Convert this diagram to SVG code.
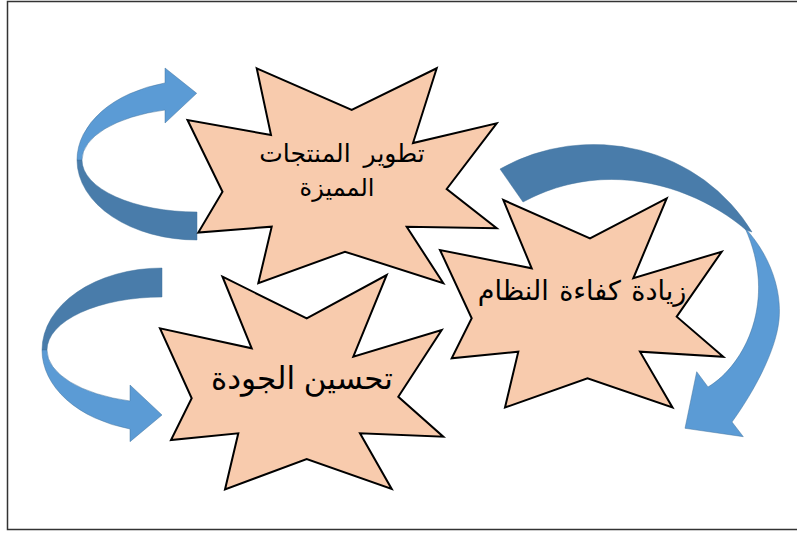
<svg xmlns="http://www.w3.org/2000/svg" width="797" height="534" viewBox="0 0 797 534">
  <style>
    .star { fill: #F8CBAD; stroke: #000; stroke-width: 2; stroke-linejoin: miter; }
    .band-dark { fill: #497CAA; stroke: #41719C; stroke-width: 0.8; stroke-opacity: 0.6; }
    .band-light { fill: #5B9BD5; stroke: #41719C; stroke-width: 0.8; stroke-opacity: 0.6; }
    .label { font-family: "Liberation Sans", "DejaVu Sans", sans-serif; fill: #000; text-anchor: middle; direction: rtl; }
  </style>

  <!-- page background and frame -->
  <rect x="0" y="0" width="797" height="534" fill="#fff"/>
  <rect x="7.5" y="1.5" width="800" height="528" fill="#fff" stroke="#333" stroke-width="1.5"/>

  <!-- curved arrows -->
  <g id="connectors">
    <!-- upper-left arrow: loops left and points back at the top star -->
    <g id="arrow-top-left">
      <path class="band-dark" d="M77,160 A120 80 0 0 0 197,240 L197,212 A115 52 0 0 1 82,160 Z"/>
      <path class="band-light" d="M165,82.9 A120 80 0 0 0 77,160 L82,160 A115 52 0 0 1 165,110 L165,123 L196.7,93.3 L165,68 Z"/>
    </g>
    <!-- lower-left arrow: loops left and points at the bottom star -->
    <g id="arrow-bottom-left">
      <path class="band-dark" d="M42,350 A120 82 0 0 1 162,268 L162,297 A115 53 0 0 0 47,350 Z"/>
      <path class="band-light" d="M42,350 A120 82 0 0 0 130,429 L130,441.7 L162,415 L130,385 L130,401 A115 53 0 0 1 47,350 Z"/>
    </g>
    <!-- right arrow: arcs over the right star and points down-left -->
    <g id="arrow-right">
      <path class="band-dark" d="M500,169 A183 175 0 0 1 752,232 L746,230 C700,190 610,155 523,202 Z"/>
      <path class="band-light" d="M745,228 C770,255 782,290 779,320 C776,350 755,390 732,422 L743.3,436.7 L685,428.3 L696.7,371.7 L708,387 C745,365 778,300 745,228 Z"/>
    </g>
  </g>

  <!-- star: product development -->
  <g id="node-products">
    <polygon class="star" points="256.7,68.3 351.7,110 436.7,68.3 413,143 496.7,123.3 446.7,189 496.7,228.3 406.7,226.7 443.3,283.3 345,251.7 258.3,283.3 271.7,226.7 198.3,232.5 222.5,191.7 187.5,120 271,135"/>
    <text class="label" x="342" y="162" font-size="25" word-spacing="6">تطوير المنتجات</text>
    <text class="label" x="337" y="196" font-size="24">المميزة</text>
  </g>

  <!-- star: system efficiency -->
  <g id="node-efficiency">
    <polygon class="star" points="503.3,200 590,238.3 666.7,198.3 633.3,278.3 721.7,251.7 676.7,316.7 723.3,356.7 640,351.7 672.5,407.5 587.5,378.3 505,407.5 518.3,351.7 451.7,358.3 471.7,318.3 440,250 531.7,268.3"/>
    <text class="label" x="582" y="300" font-size="27" word-spacing="3">زيادة كفاءة النظام</text>
  </g>

  <!-- star: quality improvement -->
  <g id="node-quality">
    <polygon class="star" points="222.5,276.7 306.7,318.3 386.7,275 353.3,356.7 441.7,330 398.3,396.7 443.3,436.7 360,433.3 391.7,489 306.7,459 225,489.5 238.3,433.3 171,440 191.7,398.3 160,328.3 251.7,348.3"/>
    <text class="label" x="302" y="389" font-size="31">تحسين الجودة</text>
  </g>
</svg>
